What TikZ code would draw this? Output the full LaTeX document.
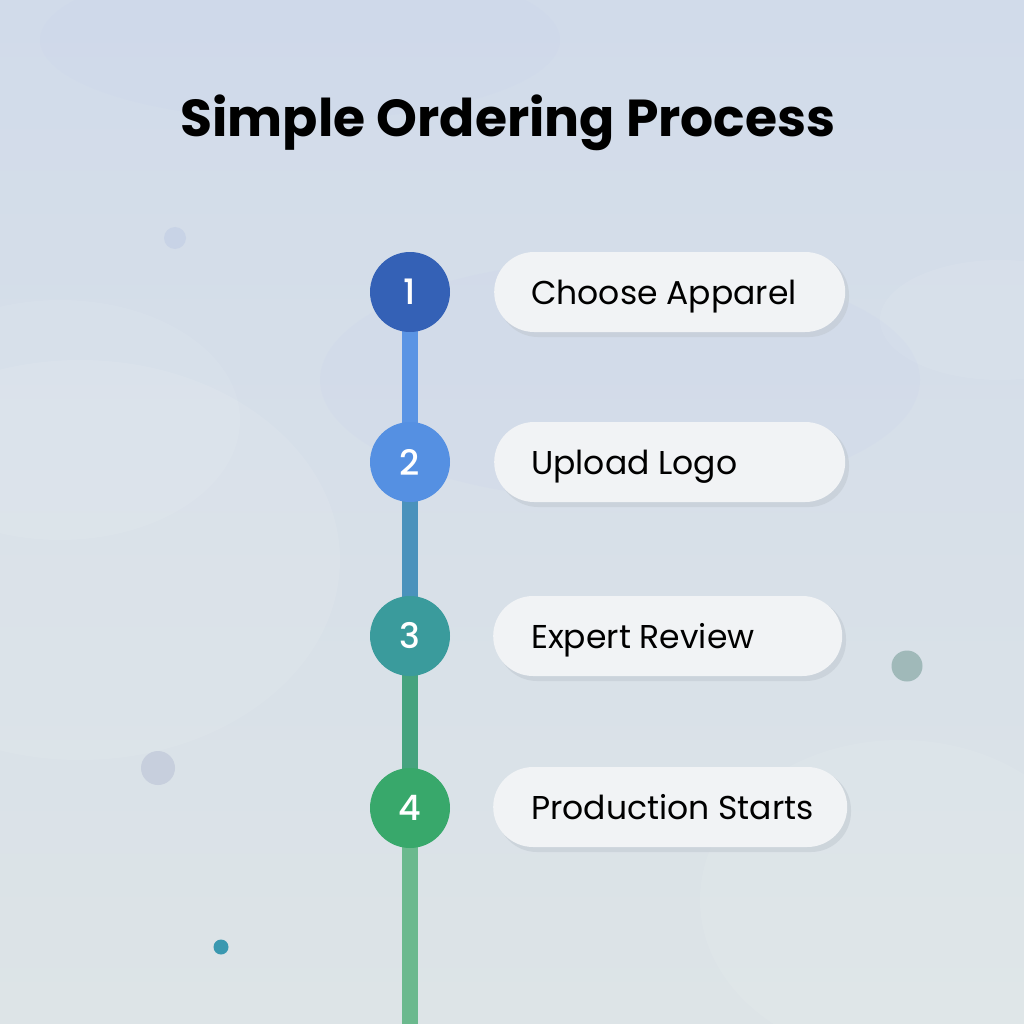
\documentclass[tikz,border=0pt]{standalone}
\usepackage{fontspec}
\setmainfont{Poppins}
\newfontfamily\titlefont{Poppins Bold}
\newfontfamily\numfont{Poppins Medium}
\definecolor{bgtop}{HTML}{D1DBEA}
\definecolor{bgbot}{HTML}{DDE4E7}
\definecolor{cA}{HTML}{3461B6}
\definecolor{cB}{HTML}{5590E2}
\definecolor{cC}{HTML}{3A9B9C}
\definecolor{cD}{HTML}{38A86B}
\definecolor{lA}{HTML}{5A94E4}
\definecolor{lB}{HTML}{4A92BC}
\definecolor{lC}{HTML}{45A37E}
\definecolor{lD}{HTML}{6BB98E}
\definecolor{pillfill}{HTML}{F1F3F5}
\definecolor{pillshadow}{HTML}{BFC7CF}
\definecolor{dotA}{HTML}{C8D3E6}
\definecolor{dotB}{HTML}{C7CFDD}
\definecolor{dotC}{HTML}{3A98B0}
\definecolor{dotD}{HTML}{A0B9B9}
\tikzset{
  stepcircle/.style={circle, minimum size=80pt, inner sep=0pt, text=white, font=\numfont\fontsize{35}{35}\selectfont},
  pill/.style={rounded corners=40pt, minimum height=80pt, fill=pillfill, inner sep=0pt},
  pilltext/.style={anchor=base west, font=\fontsize{33}{33}\selectfont, text=black, inner sep=0pt},
  dot/.style={circle, inner sep=0pt},
  connector/.style={line width=16pt}
}
\begin{document}
\begin{tikzpicture}[x=1pt,y=-1pt]
\useasboundingbox (0,0) rectangle (1024,1024);
\shade[top color=bgtop, bottom color=bgbot] (0,0) rectangle (1024,1024);
% soft watercolor blobs
\fill[white, opacity=0.08] (80,560) ellipse (260 and 200);
\fill[white, opacity=0.07] (60,420) ellipse (180 and 120);
\fill[white, opacity=0.08] (900,900) ellipse (200 and 160);
\fill[white, opacity=0.07] (1000,320) ellipse (120 and 60);
\fill[bgtop!85!blue, opacity=0.06] (620,380) ellipse (300 and 120);
\fill[bgtop!85!blue, opacity=0.05] (300,40) ellipse (260 and 80);

% title
\node[anchor=base, inner sep=0pt] (title) at (508,137) {\titlefont\fontsize{52}{52}\selectfont Simple Ordering Process};

% decorative dots
\node[dot, minimum size=22pt, fill=dotA] (d1) at (175,238) {};
\node[dot, minimum size=34pt, fill=dotB] (d2) at (158,768) {};
\node[dot, minimum size=15pt, fill=dotC] (d3) at (221,947) {};
\node[dot, minimum size=31pt, fill=dotD] (d4) at (907,666) {};

% coordinates
\coordinate (bottom) at (410,1024);
\path (410,292) coordinate (p1) (410,462) coordinate (p2) (410,636) coordinate (p3) (410,808) coordinate (p4);

% connectors
\draw[connector, lA] (p1) -- (p2);
\draw[connector, lB] (p2) -- (p3);
\draw[connector, lC] (p3) -- (p4);
\draw[connector, lD] (p4) -- (bottom);

\node[stepcircle, fill=cA] (s1) at (p1) {1};
\node[stepcircle, fill=cB] (s2) at (p2) {2};
\node[stepcircle, fill=cC] (s3) at (p3) {3};
\node[stepcircle, fill=cD] (s4) at (p4) {4};

% pills with shadows
\foreach \y/\w/\x/\t/\n in {292/351/494/Choose Apparel/b1, 462/351/494/Upload Logo/b2, 636/349/493/Expert Review/b3, 807/354/493/Production Starts/b4}{
  \fill[pillshadow, opacity=0.5, rounded corners=40pt] (\x+4,\y-37) rectangle (\x+\w+4,\y+45);
  \node[pill, minimum width=\w pt, anchor=west] (\n) at (\x,\y) {};
  \node[pilltext] at (531,\y+12) {\t};
}
\end{tikzpicture}
\end{document}
